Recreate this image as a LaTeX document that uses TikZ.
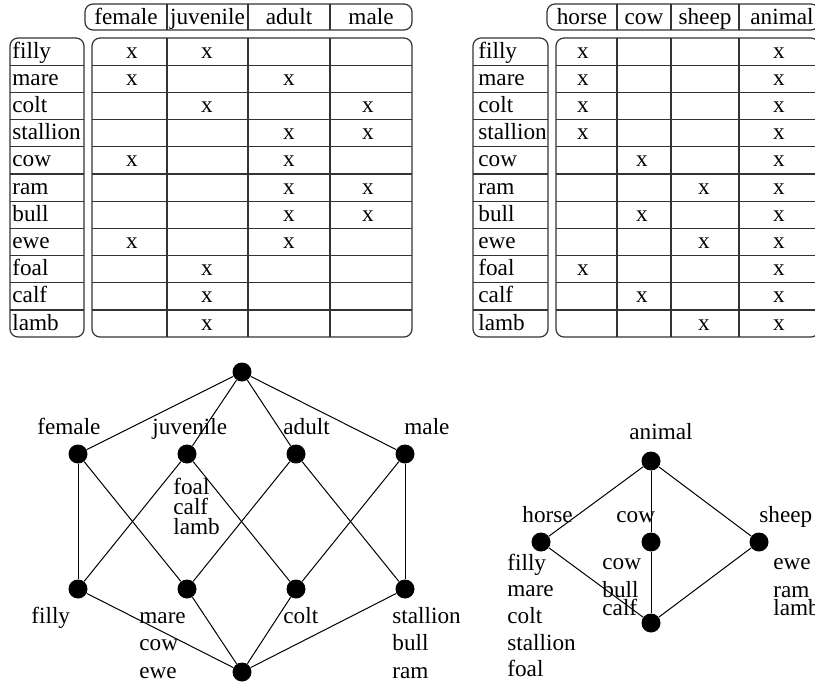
\documentclass[tikz,border=0pt]{standalone}
\usepackage{fontspec}
\setmainfont{Liberation Serif}
\usetikzlibrary{positioning}

\begin{document}
\begin{tikzpicture}[x = 0.5pt, y = -0.5pt, font = \fontsize{11.6}{13}\selectfont,
	concept/.style = {circle, fill, inner sep = 0pt, minimum size = 9.5pt},
	txt/.style = {inner sep = 0pt, anchor = base},
	lbl/.style = {inner sep = 0pt, anchor = base west},
	grid/.style = {line width = 0.6pt, black!80},
	box/.style = {grid, rounded corners = 4pt},
	edge/.style = {line width = 0.5pt}]

\path[use as bounding box, clip] (0,0) rectangle (815,685);

% context: sex and age
\draw[box]	(85,4) rectangle (412,30);
\draw[box]	(10,38) rectangle (84,337);
\draw[box]	(92,38) rectangle (412,337);
\foreach \x in {167,248,330} \draw[grid] (\x,4) -- (\x,30) (\x,38) -- (\x,337);
\foreach \i in {1,...,10} \draw[grid] (10,38+27.2*\i) -- (84,38+27.2*\i) (92,38+27.2*\i) -- (412,38+27.2*\i);
\foreach \a/\x in {female/126, juvenile/207.5, adult/289, male/371}
	\node[txt]	(l\a) at (\x,25)	{\a};
\foreach \o/\m [count=\r] in {filly/{1,2}, mare/{1,3}, colt/{2,4}, stallion/{3,4}, cow/{1,3},
		ram/{3,4}, bull/{3,4}, ewe/{1,3}, foal/{2}, calf/{2}, lamb/{2}} {
	\node[lbl]	(lo\o) at (12,30.9+27.2*\r)	{\o};
	\foreach \c in \m {
		\pgfmathsetmacro{\cx}{{132,207,289,368}[\c-1]}
		\node[txt]	at (\cx,30.9+27.2*\r)	{x};
	}
}

% context: species
\draw[box]	(547,4) rectangle (819,30);
\draw[box]	(473,38) rectangle (548,337);
\draw[box]	(556,38) rectangle (819,337);
\foreach \x in {617,671,739} \draw[grid] (\x,4) -- (\x,30) (\x,38) -- (\x,337);
\foreach \i in {1,...,10} \draw[grid] (473,38+27.2*\i) -- (548,38+27.2*\i) (556,38+27.2*\i) -- (819,38+27.2*\i);
\foreach \a/\x in {horse/582, cow/644, sheep/705, animal/782}
	\node[txt]	(r\a) at (\x,25)	{\a};
\foreach \o/\m [count=\r] in {filly/{1,4}, mare/{1,4}, colt/{1,4}, stallion/{1,4}, cow/{2,4},
		ram/{3,4}, bull/{2,4}, ewe/{3,4}, foal/{1,4}, calf/{2,4}, lamb/{3,4}} {
	\node[lbl]	(ro\o) at (478,30.9+27.2*\r)	{\o};
	\foreach \c in \m {
		\pgfmathsetmacro{\cx}{{583,642,704,779}[\c-1]}
		\node[txt]	at (\cx,30.9+27.2*\r)	{x};
	}
}

% lattice of the first context
\node[concept]	(top)	at (242,372)	{};
\node[concept]	(fem)	at (78,454)		{};
\node[concept]	(juv)	at (187,454)	{};
\node[concept]	(adu)	at (296,454)	{};
\node[concept]	(mal)	at (405,454)	{};
\node[concept]	(fil)	at (78,589)		{};
\node[concept]	(mar)	at (187,589)	{};
\node[concept]	(col)	at (296,589)	{};
\node[concept]	(sta)	at (405,589)	{};
\node[concept]	(bot)	at (242,672)	{};

\path[edge]	(top)	edge (fem) edge (juv) edge (adu) edge (mal);
\path[edge]	(fem)	edge (fil) edge (mar);
\path[edge]	(juv)	edge (fil) edge (col);
\path[edge]	(adu)	edge (mar) edge (sta);
\path[edge]	(mal)	edge (col) edge (sta);
\path[edge]	(bot)	edge (fil) edge (mar) edge (col) edge (sta);

\node[lbl]	(tfem)	at (37,434)		{female};
\node[lbl]	(tjuv)	at (152,434)	{juvenile};
\node[lbl]	(tadu)	at (283,434)	{adult};
\node[lbl]	(tmal)	at (404,434)	{male};
\foreach \w [count=\k] in {foal, calf, lamb}
	\node[lbl]	(t\w)	at (173,474+20.2*\k)	{\w};
\node[lbl]	(tfil)	at (31,623)		{filly};
\foreach \w [count=\k] in {mare, cow, ewe}
	\node[lbl]	(t\w)	at (139,595.5+27.5*\k)	{\w};
\node[lbl]	(tcol)	at (283,623)	{colt};
\foreach \w [count=\k] in {stallion, bull, ram}
	\node[lbl]	(t\w)	at (392,595.5+27.5*\k)	{\w};

% lattice of the second context
\node[concept]	(ani)	at (651,461)	{};
\node[concept]	(hor)	at (541,542)	{};
\node[concept]	(cwn)	at (651,542)	{};
\node[concept]	(she)	at (759,542)	{};
\node[concept]	(btm)	at (651,623)	{};

\path[edge]	(ani)	edge (hor) edge (cwn) edge (she);
\path[edge]	(btm)	edge (hor) edge (cwn) edge (she);

\node[txt]	(sani)	at (661,439)	{animal};
\node[lbl]	(shor)	at (522,522)	{horse};
\node[lbl]	(scwn)	at (616,522)	{cow};
\node[lbl]	(sshe)	at (759,522)	{sheep};
\foreach \w [count=\k] in {filly, mare, colt, stallion, foal}
	\node[lbl]	(s\w)	at (507,543.3+26.7*\k)	{\w};
\node[lbl]	(scow)	at (602,569)	{cow};
\node[lbl]	(sbull)	at (602,597)	{bull};
\node[lbl]	(scalf)	at (602,615)	{calf};
\node[lbl]	(sewe)	at (773,569)	{ewe};
\node[lbl]	(sram)	at (773,597)	{ram};
\node[lbl]	(slamb)	at (773,615)	{lamb};
\end{tikzpicture}
\end{document}
